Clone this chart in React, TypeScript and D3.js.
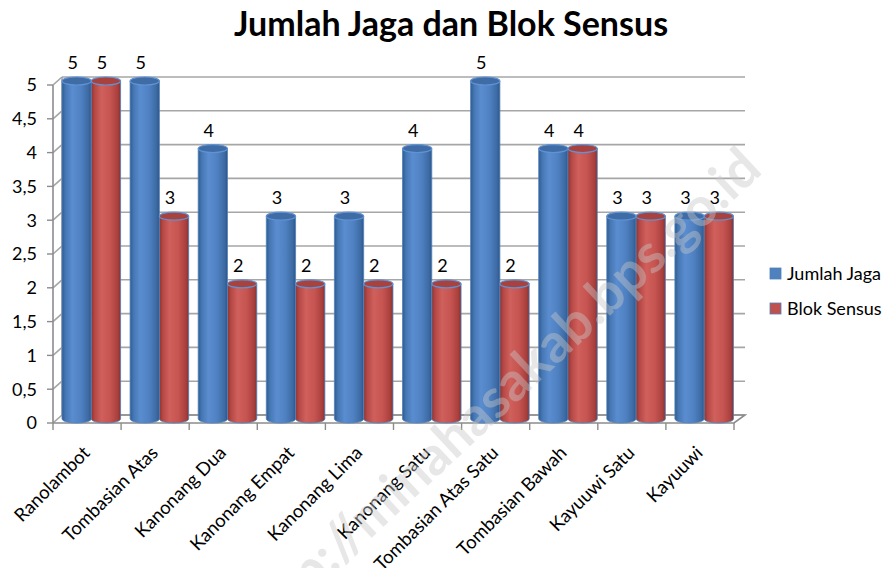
import { useEffect, useRef } from "react";
import * as d3 from "d3";

const categories = [
  "Ranolambot",
  "Tombasian Atas",
  "Kanonang Dua",
  "Kanonang Empat",
  "Kanonang Lima",
  "Kanonang Satu",
  "Tombasian Atas Satu",
  "Tombasian Bawah",
  "Kayuuwi Satu",
  "Kayuuwi",
];
const jumlahJaga = [5, 5, 4, 3, 3, 4, 5, 4, 3, 3];
const blokSensus = [5, 3, 2, 2, 2, 2, 2, 4, 3, 3];
const seriesNames = ["Jumlah Jaga", "Blok Sensus"];
const yTicks = [0, 0.5, 1, 1.5, 2, 2.5, 3, 3.5, 4, 4.5, 5];

const FONT = "Lato, 'Open Sans', sans-serif";

export default function App() {
  const ref = useRef<SVGSVGElement>(null);

  useEffect(() => {
    const svg = d3.select(ref.current);
    svg.selectAll("*").remove();

    // front plane of the 3D box, back wall is shifted by depth
    const depth = { dx: 9, dy: -8 };
    const x = d3.scaleBand<string>().domain(categories).range([53, 734]);
    const y = d3.scaleLinear().domain([0, 5]).range([423, 85]);

    const defs = svg.append("defs");
    const grad = (id: string, stops: [number, string][]) => {
      const lg = defs.append("linearGradient").attr("id", id)
        .attr("x1", "0%").attr("x2", "100%").attr("y1", "0%").attr("y2", "0%");
      stops.forEach(([o, c]) => lg.append("stop").attr("offset", `${o}%`).attr("stop-color", c));
    };
    grad("blue-cyl", [[0, "#2f5a8e"], [12, "#4677b4"], [35, "#5a8dd0"], [65, "#4f81c2"], [90, "#3d6aa3"], [100, "#2f5689"]]);
    grad("red-cyl", [[0, "#8e3431"], [12, "#b54845"], [35, "#d0605c"], [65, "#c65451"], [90, "#a9403d"], [100, "#873230"]]);

    const g = svg.append("g");

    // Back wall gridlines
    yTicks.forEach(t => {
      g.append("line")
        .attr("x1", 53 + depth.dx).attr("x2", 734 + depth.dx + 2)
        .attr("y1", y(t) + depth.dy).attr("y2", y(t) + depth.dy)
        .attr("stroke", "#a6a6a6").attr("stroke-width", 1.6);
      // side wall diagonal
      g.append("line")
        .attr("x1", 53).attr("x2", 53 + depth.dx)
        .attr("y1", y(t)).attr("y2", y(t) + depth.dy)
        .attr("stroke", "#a6a6a6").attr("stroke-width", 1.6);
      // tick mark
      g.append("line")
        .attr("x1", 47).attr("x2", 53)
        .attr("y1", y(t)).attr("y2", y(t))
        .attr("stroke", "#8c8c8c").attr("stroke-width", 1.4);
    });

    // Back wall left edge and front axis
    g.append("line").attr("x1", 53 + depth.dx).attr("x2", 53 + depth.dx)
      .attr("y1", y(5) + depth.dy).attr("y2", y(0) + depth.dy)
      .attr("stroke", "#a6a6a6").attr("stroke-width", 1.6);
    g.append("line").attr("x1", 53).attr("x2", 53)
      .attr("y1", y(5)).attr("y2", y(0))
      .attr("stroke", "#8c8c8c").attr("stroke-width", 1.6);

    // Floor
    g.append("path")
      .attr("d", `M53,${y(0)} L734,${y(0)} L${745},${y(0) + depth.dy} L${53 + depth.dx},${y(0) + depth.dy}`)
      .attr("fill", "none").attr("stroke", "#8c8c8c").attr("stroke-width", 1.6);

    // Category ticks
    const edges = categories.map(c => x(c)!).concat([734]);
    edges.forEach(e => {
      g.append("line").attr("x1", e).attr("x2", e)
        .attr("y1", y(0)).attr("y2", y(0) + 7)
        .attr("stroke", "#8c8c8c").attr("stroke-width", 1.4);
    });

    // Y tick labels
    g.selectAll(".ytick").data(yTicks).enter().append("text")
      .attr("x", 37).attr("y", d => y(d))
      .attr("dy", "0.35em").attr("text-anchor", "end")
      .attr("font-family", FONT).attr("font-size", 18).attr("fill", "#000")
      .text(d => String(d).replace(".", ","));

    // Cylinders
    const barW = x.bandwidth() * 0.43;
    const ry = 4;
    const barY = (v: number) => y(v) - 4;
    const drawSeries = (values: number[], offset: number, fillId: string, topFill: string, topStroke: string) => {
      values.forEach((v, i) => {
        const x0 = x(categories[i])! + offset;
        const cx = x0 + barW / 2;
        const top = barY(v);
        const bot = barY(0);
        g.append("path")
          .attr("d", `M${x0},${top} L${x0},${bot} A${barW / 2},${ry} 0 0 0 ${x0 + barW},${bot} L${x0 + barW},${top} Z`)
          .attr("fill", `url(#${fillId})`)
          .attr("stroke", "#4f81bd").attr("stroke-width", 0.8);
        g.append("ellipse")
          .attr("cx", cx).attr("cy", top).attr("rx", barW / 2).attr("ry", ry)
          .attr("fill", topFill).attr("stroke", topStroke).attr("stroke-width", 1.2);
        g.append("text")
          .attr("x", cx - 4).attr("y", top - 12)
          .attr("text-anchor", "middle")
          .attr("font-family", FONT).attr("font-size", 18).attr("fill", "#000")
          .text(v);
      });
    };
    drawSeries(jumlahJaga, 9, "blue-cyl", "#3f6ca5", "#5f93d6");
    drawSeries(blokSensus, 9 + barW, "red-cyl", "#a8423f", "#5f93d6");

    // X labels
    g.selectAll(".xlabel").data(categories).enter().append("text")
      .attr("transform", d => `translate(${x(d)! + x.bandwidth() / 2 + 4},${y(0) + 31}) rotate(-45)`)
      .attr("text-anchor", "end")
      .attr("font-family", FONT).attr("font-size", 18.5).attr("fill", "#000")
      .text(d => d);

    // Title
    svg.append("text")
      .attr("x", 451).attr("y", 36)
      .attr("text-anchor", "middle")
      .attr("font-family", FONT).attr("font-weight", "bold").attr("font-size", 34)
      .attr("fill", "#000")
      .text("Jumlah Jaga dan Blok Sensus");

    // Legend
    const colors = ["#4f81bd", "#c0504d"];
    seriesNames.forEach((name, i) => {
      const ly = 268 + i * 35;
      svg.append("rect").attr("x", 770).attr("y", ly).attr("width", 11).attr("height", 11)
        .attr("fill", colors[i]).attr("stroke", "#4f81bd").attr("stroke-width", 0.8);
      svg.append("text").attr("x", 787).attr("y", ly + 5.5).attr("dy", "0.35em")
        .attr("font-family", FONT).attr("font-size", 18).attr("fill", "#000")
        .text(name);
    });

    // Watermark
    svg.append("text")
      .attr("transform", "translate(764,172) rotate(-43)")
      .attr("text-anchor", "end")
      .attr("font-family", FONT).attr("font-weight", "bold").attr("font-size", 54)
      .attr("fill", "#c8c8c8").attr("opacity", 0.42)
      .text("http://minahasakab.bps.go.id");
  }, []);

  return (
    <svg
      ref={ref}
      width={885}
      height={568}
      style={{ position: "absolute", left: 0, top: 0, background: "#fff" }}
    />
  );
}
